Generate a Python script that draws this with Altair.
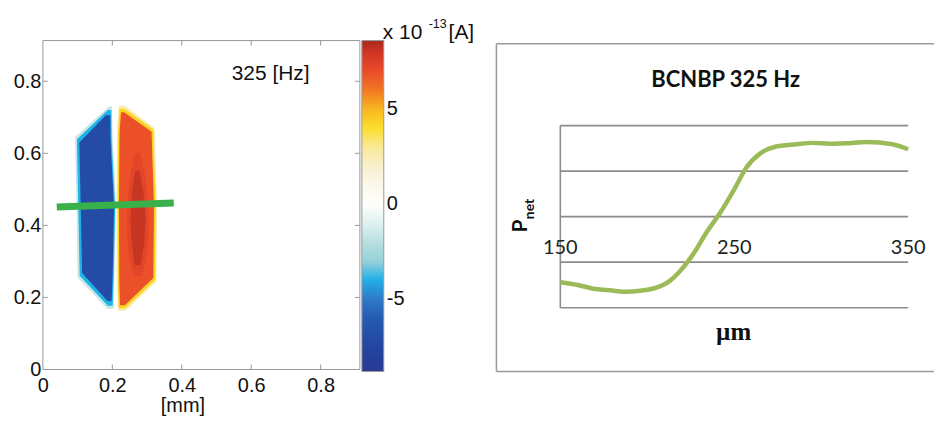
import altair as alt
import pandas as pd

# ---------------- left panel: current map ----------------
MAP_TICKS = [0, 0.2, 0.4, 0.6, 0.8]
MAP_DOMAIN = [0, 0.913]
CBAR_TICKS = [-5, 0, 5]
CBAR_STOPS = [-8.8, -7.9, -6.1, -4.7, -3.9, -3.2, -2.2, -1.1, -0.3, 0.5,
              1.8, 2.9, 4.1, 5.1, 5.8, 6.3, 7.3, 8.2, 8.6]
CBAR_COLORS = ["#283a94", "#24409c", "#2458b0", "#3282d0", "#1eb4e8", "#90d0d8",
               "#b0dcdc", "#dcefef", "#ffffff", "#fdfcf6", "#f8f0d8", "#faeaa0",
               "#fcdd22", "#f7b21f", "#f28a22", "#ef5a25", "#e8452a", "#c83020",
               "#a52a1e"]

# lobe outlines (mm): rows y, left edge, right edge, level value (x1e-13 A)
B1_Y = [0.168, 0.255, 0.45, 0.645, 0.73]
B1_XL = [0.186, 0.1, 0.097, 0.093, 0.19]
B1_XR = [0.204, 0.206, 0.211, 0.201, 0.199]
B2_Y = [0.177, 0.26, 0.45, 0.639, 0.72]
B2_XL = [0.187, 0.106, 0.102, 0.098, 0.187]
B2_XR = [0.201, 0.204, 0.208, 0.198, 0.197]
B3_Y = [0.19, 0.268, 0.45, 0.63, 0.706]
B3_XL = [0.186, 0.113, 0.109, 0.105, 0.181]
B3_XR = [0.198, 0.201, 0.205, 0.195, 0.194]
R1_Y = [0.163, 0.243, 0.45, 0.67, 0.732]
R1_XL = [0.216, 0.213, 0.212, 0.214, 0.218]
R1_XR = [0.238, 0.327, 0.329, 0.322, 0.236]
R2_Y = [0.17, 0.248, 0.45, 0.666, 0.724]
R2_XL = [0.218, 0.216, 0.215, 0.217, 0.221]
R2_XR = [0.237, 0.323, 0.325, 0.318, 0.235]
R3_Y = [0.178, 0.254, 0.45, 0.66, 0.714]
R3_XL = [0.222, 0.22, 0.219, 0.221, 0.225]
R3_XR = [0.236, 0.318, 0.32, 0.313, 0.234]
D1_Y = [0.26, 0.31, 0.38, 0.46, 0.53, 0.6]
D1_XL = [0.262, 0.248, 0.242, 0.244, 0.25, 0.265]
D1_XR = [0.285, 0.298, 0.304, 0.302, 0.296, 0.28]
D2_Y = [0.29, 0.35, 0.42, 0.49, 0.55]
D2_XL = [0.264, 0.256, 0.252, 0.256, 0.266]
D2_XR = [0.282, 0.292, 0.296, 0.29, 0.279]
LEVELS = [("b1", -1.6, B1_Y, B1_XL, B1_XR, 1), ("b2", -3.9, B2_Y, B2_XL, B2_XR, 1),
          ("b3", -7.0, B3_Y, B3_XL, B3_XR, 1), ("r1", 2.6, R1_Y, R1_XL, R1_XR, 1),
          ("r2", 4.3, R2_Y, R2_XL, R2_XR, 1), ("r3", 6.8, R3_Y, R3_XL, R3_XR, 1),
          ("d1", 7.7, D1_Y, D1_XL, D1_XR, 0.55), ("d2", 8.4, D2_Y, D2_XL, D2_XR, 0.6)]

PROFILE_X = [0.04, 0.377]
PROFILE_Y = [0.451, 0.462]
FREQ_LABEL = "325 [Hz]"
FREQ_POS = [0.656, 0.819]

# ---------------- right panel: profile ----------------
UM = [150, 160, 170, 177, 187, 196, 206, 212, 219, 227, 234, 242, 250, 257,
      265, 273, 286, 295, 305, 314, 326, 341, 350]
PNET = [0.56, 0.50, 0.41, 0.39, 0.35, 0.37, 0.45, 0.56, 0.81, 1.21, 1.65,
        2.09, 2.60, 3.08, 3.39, 3.53, 3.59, 3.62, 3.60, 3.61, 3.64, 3.59, 3.48]
UM_LABELS = [150, 250, 350]
GRID_Y = [0, 1, 2, 3, 4]
X_RANGE = [150, 350]
LABEL_ROW = 1.31
R_XDOM = [113.26, 364.86]
R_YDOM = [-1.401, 5.8675]

SANS = "Liberation Sans"
W1, H1 = 318, 330
W2, H2 = 439, 332
FRAME = "#9a9a9a"

xsc = alt.Scale(domain=MAP_DOMAIN, nice=False, zero=False)
ysc = alt.Scale(domain=MAP_DOMAIN, nice=False, zero=False)
x_axis = alt.Axis(values=MAP_TICKS, format="~g", title="[mm]", titleFont=SANS,
                  titleFontSize=20, titleFontWeight="normal", titleColor="#111",
                  titleX=140, titleY=26, titleBaseline="top", labelFont=SANS,
                  labelFontSize=20, labelColor="#111", ticks=False, domain=False,
                  grid=False, labelPadding=6, labelFlush=False)
y_axis = alt.Axis(values=MAP_TICKS, format="~g", title=None, labelFont=SANS,
                  labelFontSize=20, labelColor="#111", ticks=False, domain=False,
                  grid=False, labelPadding=2, labelFlush=False)

def X(f):
    return alt.X(f, type="quantitative", scale=xsc, axis=x_axis)

def Y(f):
    return alt.Y(f, type="quantitative", scale=ysc, axis=y_axis)

color = alt.Color(
    "v:Q",
    scale=alt.Scale(domain=CBAR_STOPS, range=CBAR_COLORS, interpolate="rgb"),
    legend=alt.Legend(title=None, values=CBAR_TICKS, gradientLength=332,
                      gradientThickness=22, labelFont=SANS, labelFontSize=20,
                      labelColor="#111", offset=2, padding=0, labelOffset=3,
                      labelExpr="datum.value < 0 ? '-' + (-datum.value) : datum.label",
                      gradientStrokeColor=FRAME, gradientStrokeWidth=1,
                      direction="vertical", orient="right"),
)

layers = []
for name, v, ys, xl, xr, op in LEVELS:
    df = pd.DataFrame({"y": ys, "xl": xl, "xr": xr, "v": v})
    layers.append(
        alt.Chart(df).mark_area(orient="horizontal", interpolate="linear", opacity=op)
        .encode(y=Y("y"), x=X("xl"), x2="xr:Q", color=color)
    )

prof = pd.DataFrame({"x": [PROFILE_X[0]], "x2": [PROFILE_X[1]],
                     "y": [PROFILE_Y[0]], "y2": [PROFILE_Y[1]]})
layers.append(alt.Chart(prof).mark_rule(color="#38b14a", strokeWidth=7)
              .encode(x=X("x"), x2="x2:Q", y=Y("y"), y2="y2:Q"))

freq = pd.DataFrame({"x": [FREQ_POS[0]], "y": [FREQ_POS[1]], "t": [FREQ_LABEL]})
layers.append(alt.Chart(freq).mark_text(font=SANS, fontSize=21, color="#111")
              .encode(x=X("x"), y=Y("y"), text="t:N"))

ticks = pd.DataFrame({"t": MAP_TICKS[1:]})
tk = alt.Chart(ticks).mark_rule(color=FRAME, strokeWidth=1)
layers += [
    tk.encode(x=X("t"), y=alt.value(H1), y2=alt.value(H1 - 5)),
    tk.encode(x=X("t"), y=alt.value(0), y2=alt.value(5)),
    tk.encode(y=Y("t"), x=alt.value(0), x2=alt.value(5)),
    tk.encode(y=Y("t"), x=alt.value(W1), x2=alt.value(W1 - 5)),
]
one = pd.DataFrame({"a": [0]})
layers.append(alt.Chart(one).mark_rect(filled=False, stroke=FRAME, strokeWidth=1)
              .encode(x=alt.value(0), x2=alt.value(W1), y=alt.value(0), y2=alt.value(H1)))
layers.append(alt.Chart(one).mark_text(text="x 10", font=SANS, fontSize=21, align="left",
                                       baseline="alphabetic", color="#111")
              .encode(x=alt.value(341), y=alt.value(-2)))
layers.append(alt.Chart(one).mark_text(text="-13", font=SANS, fontSize=12.5, align="left",
                                       baseline="alphabetic", color="#111")
              .encode(x=alt.value(387), y=alt.value(-13)))
layers.append(alt.Chart(one).mark_text(text="[A]", font=SANS, fontSize=21, align="left",
                                       baseline="alphabetic", color="#111")
              .encode(x=alt.value(407), y=alt.value(-2)))

left = alt.layer(*layers).properties(width=W1, height=H1)

# ---------------- right panel ----------------
RX = alt.Scale(domain=R_XDOM, nice=False, zero=False)
RY = alt.Scale(domain=R_YDOM, nice=False, zero=False)
GRID_C = "#8c8c8c"

grid = pd.DataFrame({"g": GRID_Y, "x0": X_RANGE[0], "x1": X_RANGE[1]})
r_layers = [
    alt.Chart(grid).mark_rule(color=GRID_C, strokeWidth=1.6)
    .encode(y=alt.Y("g:Q", scale=RY, axis=None),
            x=alt.X("x0:Q", scale=RX, axis=None), x2="x1:Q"),
    alt.Chart(pd.DataFrame({"x": [X_RANGE[0]], "y0": [GRID_Y[0]], "y1": [GRID_Y[-1]]}))
    .mark_rule(color=GRID_C, strokeWidth=1.6)
    .encode(x=alt.X("x:Q", scale=RX, axis=None),
            y=alt.Y("y0:Q", scale=RY, axis=None), y2="y1:Q"),
    alt.Chart(pd.DataFrame({"um": UM, "p": PNET}))
    .mark_line(color="#9bbb59", strokeWidth=4.5, interpolate="monotone")
    .encode(x=alt.X("um:Q", scale=RX, axis=None), y=alt.Y("p:Q", scale=RY, axis=None)),
    alt.Chart(pd.DataFrame({"um": UM_LABELS, "y": LABEL_ROW}))
    .mark_text(font="Lato", fontSize=20, color="#222", baseline="middle")
    .encode(x=alt.X("um:Q", scale=RX, axis=None), y=alt.Y("y:Q", scale=RY, axis=None),
            text=alt.Text("um:Q", format="d")),
]
r_one = alt.Chart(one)
r_layers += [
    r_one.mark_text(text="BCNBP 325 Hz", font="Lato", fontSize=22, fontWeight="bold",
                    color="#111", baseline="middle")
    .encode(x=alt.value(230), y=alt.value(40)),
    r_one.mark_text(text="P", font="Lato", fontSize=21, fontWeight="bold", color="#111",
                    angle=270, baseline="middle")
    .encode(x=alt.value(25), y=alt.value(186)),
    r_one.mark_text(text="net", font="Lato", fontSize=14, fontWeight="bold", color="#111",
                    angle=270, baseline="middle")
    .encode(x=alt.value(34), y=alt.value(169)),
    r_one.mark_text(text="µm", font="Liberation Serif", fontSize=25, fontWeight="bold",
                    color="#111", baseline="alphabetic")
    .encode(x=alt.value(238), y=alt.value(300)),
    r_one.mark_rule(color=FRAME, strokeWidth=1.5)
    .encode(x=alt.value(0), y=alt.value(3.3), y2=alt.value(H2)),
    r_one.mark_rule(color=FRAME, strokeWidth=1.5)
    .encode(x=alt.value(0), x2=alt.value(W2), y=alt.value(3.3)),
    r_one.mark_rule(color=FRAME, strokeWidth=1.5)
    .encode(x=alt.value(0), x2=alt.value(W2), y=alt.value(H2)),
]
right = alt.layer(*r_layers).properties(width=W2, height=H2)

chart = (
    alt.hconcat(left, right, spacing=21)
    .resolve_scale(color="independent", x="independent", y="independent")
    .resolve_legend(color="independent")
    .properties(padding={"left": 5, "top": 9, "right": 0, "bottom": 0})
    .configure_view(stroke=None)
)

chart.save("out.html", embed_options={"renderer": "svg", "actions": False})
